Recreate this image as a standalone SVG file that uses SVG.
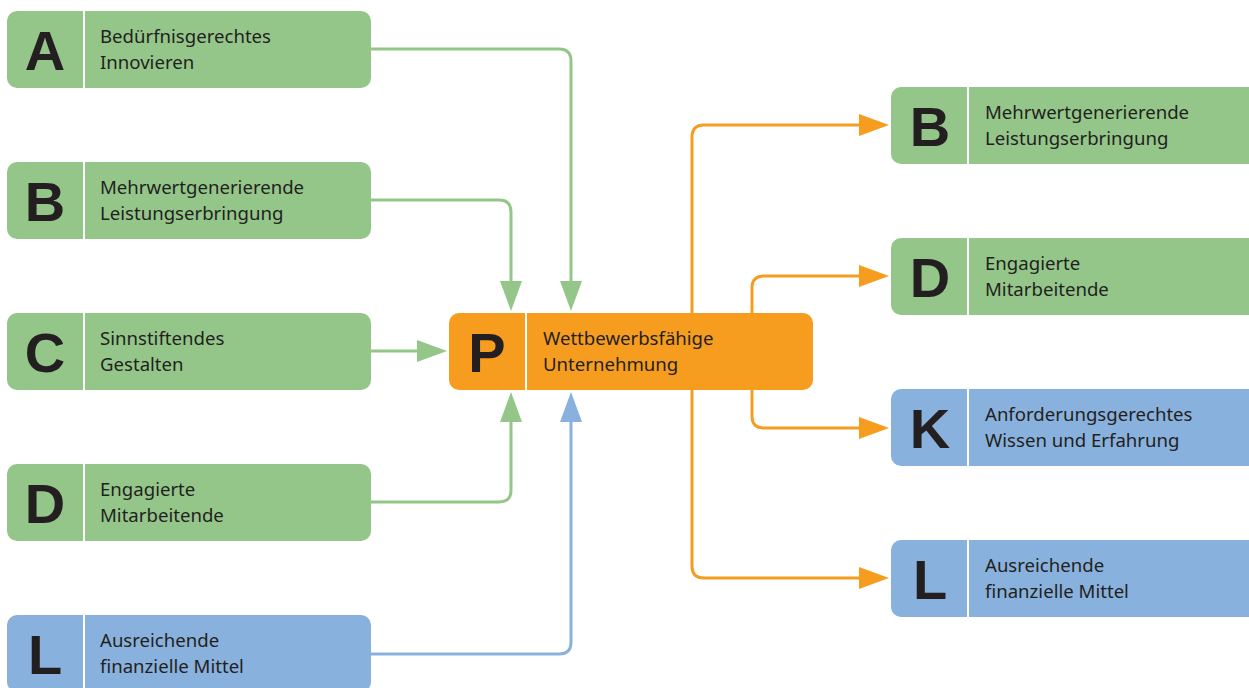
<svg xmlns="http://www.w3.org/2000/svg" width="1249" height="688" viewBox="0 0 1249 688">
<style>
.g{fill:#94C68A}.b{fill:#89B1DD}.o{fill:#F69D1F}
.div{stroke:#fff;stroke-width:2}
.let{font-family:"Liberation Sans",Arial,sans-serif;font-weight:bold;font-size:56px;fill:#231F20;text-anchor:middle}
.t{font-family:"Noto Sans","Open Sans",sans-serif;font-size:18.6px;fill:#231F20}
.cg{fill:none;stroke:#94C68A;stroke-width:3}
.cb{fill:none;stroke:#89B1DD;stroke-width:3}
.co{fill:none;stroke:#F69D1F;stroke-width:3}
</style>
<defs>
<marker id="ag" viewBox="0 0 30 22" refX="10" refY="11" markerWidth="30" markerHeight="22" markerUnits="userSpaceOnUse" orient="auto"><path d="M0,0 L30,11 L0,22 Z" fill="#94C68A"/></marker>
<marker id="ab" viewBox="0 0 30 22" refX="10" refY="11" markerWidth="30" markerHeight="22" markerUnits="userSpaceOnUse" orient="auto"><path d="M0,0 L30,11 L0,22 Z" fill="#89B1DD"/></marker>
<marker id="ao" viewBox="0 0 30 22" refX="10" refY="11" markerWidth="30" markerHeight="22" markerUnits="userSpaceOnUse" orient="auto"><path d="M0,0 L30,11 L0,22 Z" fill="#F69D1F"/></marker>
</defs>
<g id="connectors">
<path class="cg" d="M371,49 H559 Q571,49 571,61 V291" marker-end="url(#ag)"/>
<path class="cg" d="M371,200 H499 Q511,200 511,212 V291" marker-end="url(#ag)"/>
<path class="cg" d="M371,351 H427" marker-end="url(#ag)"/>
<path class="cg" d="M371,502 H499 Q511,502 511,490 V412" marker-end="url(#ag)"/>
<path class="cb" d="M371,654 H559 Q571,654 571,642 V412" marker-end="url(#ab)"/>
<path class="co" d="M692,313 V137 Q692,125 704,125 H869" marker-end="url(#ao)"/>
<path class="co" d="M752,313 V288 Q752,276 764,276 H869" marker-end="url(#ao)"/>
<path class="co" d="M752,390 V416 Q752,428 764,428 H869" marker-end="url(#ao)"/>
<path class="co" d="M692,390 V566 Q692,578 704,578 H869" marker-end="url(#ao)"/>
</g>
<g id="nodeA_left">
<rect class="g" x="7" y="11" width="364" height="77" rx="10"/>
<line class="div" x1="84" y1="11" x2="84" y2="88"/>
<text class="let" x="45" y="70">A</text>
<text class="t" x="100" y="43">Bedürfnisgerechtes</text>
<text class="t" x="100" y="69">Innovieren</text>
</g>
<g id="nodeB_left">
<rect class="g" x="7" y="162" width="364" height="77" rx="10"/>
<line class="div" x1="84" y1="162" x2="84" y2="239"/>
<text class="let" x="45" y="221">B</text>
<text class="t" x="100" y="194">Mehrwertgenerierende</text>
<text class="t" x="100" y="220">Leistungserbringung</text>
</g>
<g id="nodeC_left">
<rect class="g" x="7" y="313" width="364" height="77" rx="10"/>
<line class="div" x1="84" y1="313" x2="84" y2="390"/>
<text class="let" x="45" y="372">C</text>
<text class="t" x="100" y="345">Sinnstiftendes</text>
<text class="t" x="100" y="371">Gestalten</text>
</g>
<g id="nodeD_left">
<rect class="g" x="7" y="464" width="364" height="77" rx="10"/>
<line class="div" x1="84" y1="464" x2="84" y2="541"/>
<text class="let" x="45" y="523">D</text>
<text class="t" x="100" y="496">Engagierte</text>
<text class="t" x="100" y="522">Mitarbeitende</text>
</g>
<g id="nodeL_left">
<rect class="b" x="7" y="615" width="364" height="77" rx="10"/>
<line class="div" x1="84" y1="615" x2="84" y2="692"/>
<text class="let" x="45" y="674">L</text>
<text class="t" x="100" y="647">Ausreichende</text>
<text class="t" x="100" y="673">finanzielle Mittel</text>
</g>
<g id="nodeP">
<rect class="o" x="449" y="313" width="364" height="77" rx="10"/>
<line class="div" x1="526" y1="313" x2="526" y2="390"/>
<text class="let" x="487" y="372">P</text>
<text class="t" x="543" y="345">Wettbewerbsfähige</text>
<text class="t" x="543" y="371">Unternehmung</text>
</g>
<g id="nodeB_right">
<rect class="g" x="891" y="87" width="370" height="77" rx="10"/>
<line class="div" x1="968" y1="87" x2="968" y2="164"/>
<text class="let" x="930" y="146">B</text>
<text class="t" x="985" y="119">Mehrwertgenerierende</text>
<text class="t" x="985" y="145">Leistungserbringung</text>
</g>
<g id="nodeD_right">
<rect class="g" x="891" y="238" width="370" height="77" rx="10"/>
<line class="div" x1="968" y1="238" x2="968" y2="315"/>
<text class="let" x="930" y="297">D</text>
<text class="t" x="985" y="270">Engagierte</text>
<text class="t" x="985" y="296">Mitarbeitende</text>
</g>
<g id="nodeK_right">
<rect class="b" x="891" y="389" width="370" height="77" rx="10"/>
<line class="div" x1="968" y1="389" x2="968" y2="466"/>
<text class="let" x="930" y="448">K</text>
<text class="t" x="985" y="421">Anforderungsgerechtes</text>
<text class="t" x="985" y="447">Wissen und Erfahrung</text>
</g>
<g id="nodeL_right">
<rect class="b" x="891" y="540" width="370" height="77" rx="10"/>
<line class="div" x1="968" y1="540" x2="968" y2="617"/>
<text class="let" x="930" y="599">L</text>
<text class="t" x="985" y="572">Ausreichende</text>
<text class="t" x="985" y="598">finanzielle Mittel</text>
</g>
</svg>
